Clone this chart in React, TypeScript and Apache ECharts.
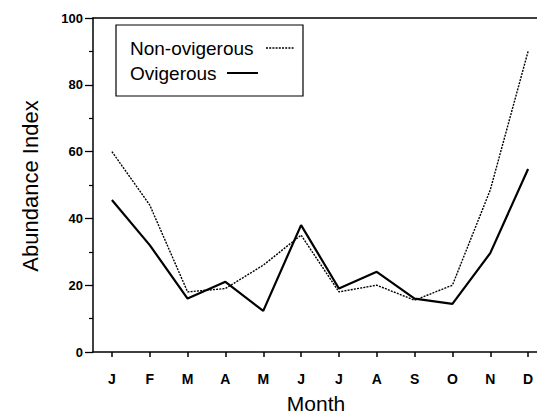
import React, { useEffect, useRef } from "react";
import * as echarts from "echarts";

const months = ["J", "F", "M", "A", "M", "J", "J", "A", "S", "O", "N", "D"];
const nonOvigerous = [60, 44, 18, 19, 26, 35, 18, 20, 15.5, 20, 48.5, 90];
const ovigerous = [45.5, 32, 16, 21, 12.3, 38, 19, 24, 16, 14.4, 29.6, 54.8];
const seriesNames = ["Non-ovigerous", "Ovigerous"];
const xTitle = "Month";
const yTitle = "Abundance Index";

const FONT = "'Liberation Sans', Arial, Helvetica, sans-serif";

export default function App() {
  const ref = useRef<HTMLDivElement>(null);
  useEffect(() => {
    if (!ref.current) return;
    const chart = echarts.init(ref.current, undefined, { renderer: "svg" });
    chart.setOption({
      animation: false,
      grid: { left: 93, right: -10, top: 18, bottom: 66, outerBoundsMode: "none", containLabel: false },
      xAxis: [
        {
          type: "category",
          data: months,
          boundaryGap: true,
          axisLine: { show: true, lineStyle: { color: "#000", width: 1.5 } },
          axisTick: { show: true, alignWithLabel: true, length: 5, lineStyle: { color: "#000", width: 1.5 } },
          axisLabel: {
            show: true,
            interval: 0,
            fontSize: 14,
            fontWeight: "bold",
            color: "#000",
            margin: 20,
            fontFamily: FONT,
          },
          splitLine: { show: false },
        },
        {
          type: "category",
          data: months,
          position: "top",
          axisLine: { show: true, lineStyle: { color: "#000", width: 1.5 } },
          axisTick: { show: false },
          axisLabel: { show: false },
          splitLine: { show: false },
        },
      ],
      yAxis: {
        type: "value",
        min: 0,
        max: 100,
        interval: 20,
        axisLine: { show: true, lineStyle: { color: "#000", width: 1.5 } },
        axisTick: { show: true, length: 8, lineStyle: { color: "#000", width: 1.3 } },
        minorTick: { show: true, splitNumber: 2, length: 4, lineStyle: { color: "#000", width: 1.2 } },
        axisLabel: {
          show: true,
          fontSize: 13,
          fontWeight: "bold",
          color: "#000",
          margin: 10,
          fontFamily: FONT,
        },
        splitLine: { show: false },
      },
      series: [
        {
          name: seriesNames[0],
          type: "line",
          data: nonOvigerous,
          showSymbol: false,
          lineStyle: { color: "#000", width: 1.4, type: [2, 1.2] },
        },
        {
          name: seriesNames[1],
          type: "line",
          data: ovigerous,
          showSymbol: false,
          lineStyle: { color: "#000", width: 2.2 },
        },
      ],
      graphic: [
        {
          type: "text",
          x: 316,
          y: 403,
          style: { text: xTitle, fontSize: 21, fontFamily: FONT, fill: "#000", align: "center", verticalAlign: "middle" },
        },
        {
          type: "text",
          x: 30,
          y: 186,
          rotation: Math.PI / 2,
          style: { text: yTitle, fontSize: 22, fontFamily: FONT, fill: "#000", align: "center", verticalAlign: "middle" },
        },
        {
          type: "rect",
          shape: { x: 116, y: 25, width: 187, height: 71 },
          style: { fill: "#fff", stroke: "#000", lineWidth: 1.2 },
          z: 10,
        },
        {
          type: "text",
          x: 130,
          y: 48,
          style: { text: seriesNames[0], fontSize: 19, fontFamily: FONT, fill: "#000", verticalAlign: "middle" },
          z: 11,
        },
        {
          type: "line",
          shape: { x1: 266, y1: 48, x2: 294, y2: 48 },
          style: { stroke: "#000", lineWidth: 1.4, lineDash: [2, 1.2] },
          z: 11,
        },
        {
          type: "text",
          x: 130,
          y: 73,
          style: { text: seriesNames[1], fontSize: 19, fontFamily: FONT, fill: "#000", verticalAlign: "middle" },
          z: 11,
        },
        {
          type: "line",
          shape: { x1: 227, y1: 73, x2: 258, y2: 73 },
          style: { stroke: "#000", lineWidth: 2 },
          z: 11,
        },
      ],
    });
    return () => chart.dispose();
  }, []);
  return (
    <div
      ref={ref}
      style={{ position: "fixed", left: 0, top: 0, width: 537, height: 418, background: "#fff" }}
    />
  );
}
